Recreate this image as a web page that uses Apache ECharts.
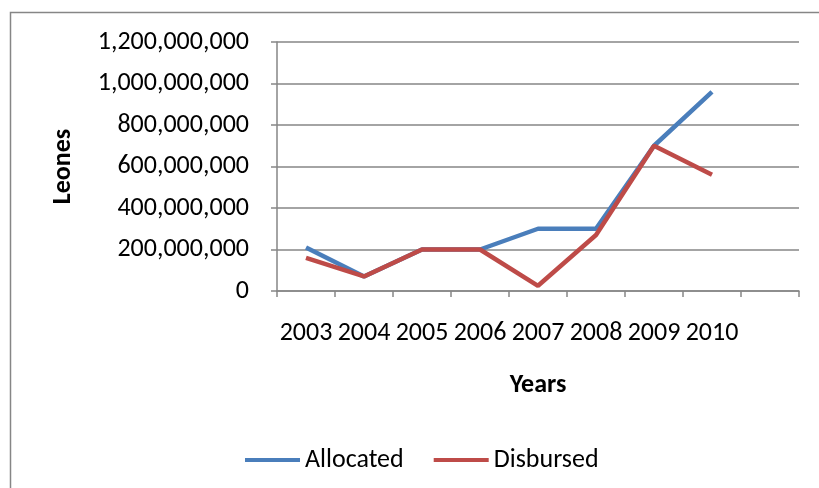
<!DOCTYPE html>
<html>
<head>
<meta charset="utf-8">
<script src="https://cdn.jsdelivr.net/npm/echarts@6/dist/echarts.min.js"></script>
<style>
  html, body { margin: 0; padding: 0; background: #fff; }
  #chart { width: 819px; height: 488px; }
</style>
</head>
<body>
<div id="chart"></div>
<script>
// data
const years = ['2003', '2004', '2005', '2006', '2007', '2008', '2009', '2010', ''];
const allocated = [210000000, 70000000, 200000000, 200000000, 300000000, 300000000, 700000000, 960000000, null];
const disbursed = [160000000, 70000000, 200000000, 200000000, 25000000, 270000000, 700000000, 560000000, null];
const yTicks = { min: 0, max: 1200000000, interval: 200000000 };

const FONT = 'Carlito, Lato, "Open Sans", sans-serif';
const FS = 26;
const AXIS_GRAY = '#868686';

const chart = echarts.init(document.getElementById('chart'));

const fmt = (v) => String(v).replace(/\B(?=(\d{3})+(?!\d))/g, ',');

chart.setOption({
  animation: false,
  textStyle: { fontFamily: FONT },
  graphic: [{
    type: 'rect',
    shape: { x: 10.5, y: 12.5, width: 820, height: 490 },
    style: { fill: 'none', stroke: '#868686', lineWidth: 1.5 },
    silent: true
  }],
  grid: { left: 277, right: 20, top: 42, bottom: 197 },
  legend: {
    left: 245,
    top: 447,
    padding: 0,
    icon: 'rect',
    itemWidth: 55,
    itemHeight: 4,
    itemGap: 30,
    textStyle: { fontFamily: FONT, fontSize: FS, color: '#000' },
    data: ['Allocated', 'Disbursed']
  },
  xAxis: {
    type: 'category',
    data: years,
    boundaryGap: true,
    name: 'Years',
    nameLocation: 'middle',
    nameGap: 81,
    nameTextStyle: { fontFamily: FONT, fontSize: FS, fontWeight: 'bold', color: '#000' },
    axisLine: { lineStyle: { color: AXIS_GRAY, width: 1.5 } },
    axisTick: { show: true, alignWithLabel: false, length: 6, lineStyle: { color: AXIS_GRAY, width: 1.5 } },
    axisLabel: { fontFamily: FONT, fontSize: FS, color: '#000', margin: 29, interval: 0 },
    splitLine: { show: false }
  },
  yAxis: {
    type: 'value',
    min: yTicks.min,
    max: yTicks.max,
    interval: yTicks.interval,
    name: 'Leones',
    nameLocation: 'middle',
    nameGap: 201,
    nameRotate: 90,
    nameTextStyle: { fontFamily: FONT, fontSize: FS, fontWeight: 'bold', color: '#000' },
    axisLine: { show: true, lineStyle: { color: AXIS_GRAY, width: 1.5 } },
    axisTick: { show: true, length: 6, lineStyle: { color: AXIS_GRAY, width: 1.5 } },
    axisLabel: { fontFamily: FONT, fontSize: FS, color: '#000', margin: 28, formatter: fmt },
    splitLine: { show: true, lineStyle: { color: AXIS_GRAY, width: 1.5 } }
  },
  series: [
    {
      name: 'Allocated',
      type: 'line',
      data: allocated,
      symbol: 'none',
      lineStyle: { color: '#4A7EBB', width: 4.5 },
      itemStyle: { color: '#4A7EBB' }
    },
    {
      name: 'Disbursed',
      type: 'line',
      data: disbursed,
      symbol: 'none',
      lineStyle: { color: '#BE4B48', width: 4.5 },
      itemStyle: { color: '#BE4B48' }
    }
  ]
});
</script>
</body>
</html>
